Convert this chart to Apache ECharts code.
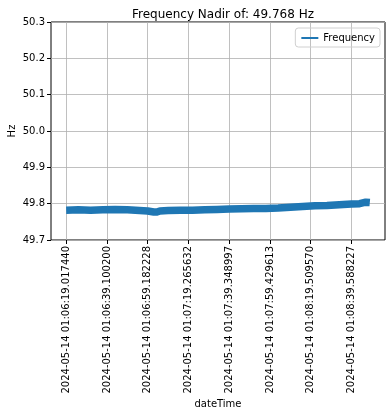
<!DOCTYPE html>
<html>
<head>
<meta charset="utf-8">
<script src="https://cdn.jsdelivr.net/npm/echarts@6/dist/echarts.min.js"></script>
<style>html,body{margin:0;padding:0;background:#fff}#c{width:392px;height:416px}</style>
</head>
<body>
<div id="c"></div>
<script>
// sample index (≈10 samples/s) and frequency (Hz)
const sampleIndex = [0, 60, 120, 180, 240, 300, 360, 400, 430, 445, 460, 500, 560, 620, 680, 740, 800, 860, 920, 980, 1040, 1100, 1160, 1220, 1280, 1340, 1400, 1440, 1470, 1490];
const frequency = [49.782, 49.783, 49.782, 49.783, 49.784, 49.783, 49.781, 49.780, 49.777, 49.777, 49.780, 49.781, 49.782, 49.782, 49.783, 49.784, 49.785, 49.786, 49.787, 49.787, 49.788, 49.790, 49.792, 49.794, 49.795, 49.797, 49.799, 49.800, 49.804, 49.803];
const tickIndex = [0, 200, 400, 600, 800, 1000, 1200, 1400];
const tickLabels = [
  "2024-05-14 01:06:19.017440",
  "2024-05-14 01:06:39.100200",
  "2024-05-14 01:06:59.182228",
  "2024-05-14 01:07:19.265632",
  "2024-05-14 01:07:39.348997",
  "2024-05-14 01:07:59.429613",
  "2024-05-14 01:08:19.509570",
  "2024-05-14 01:08:39.588227"
];

const font = "DejaVu Sans";
const chart = echarts.init(document.getElementById('c'), null, {renderer: 'canvas'});
const n = sampleIndex[sampleIndex.length - 1];
chart.setOption({
  animation: false,
  backgroundColor: '#fff',
  title: {
    text: 'Frequency Nadir of: 49.768 Hz',
    left: 218, top: 4, textAlign: 'center',
    textStyle: {fontFamily: font, fontSize: 12, fontWeight: 'normal', color: '#000'}
  },
  legend: {
    right: 12, top: 28,
    data: ['Frequency'],
    icon: 'rect', itemWidth: 17, itemHeight: 2, itemGap: 6,
    borderColor: '#d0d0d0', borderWidth: 1, borderRadius: 3,
    padding: [5, 5, 4, 6],
    textStyle: {fontFamily: font, fontSize: 10, color: '#000'}
  },
  grid: {left: 51, right: 7, top: 22, bottom: 176, containLabel: false, outerBoundsMode: 'none',
         show: true, borderColor: '#000', borderWidth: 1, backgroundColor: 'transparent'},
  xAxis: {
    type: 'value',
    min: -0.05 * n, max: 1.05 * n,
    name: 'dateTime', nameLocation: 'middle', nameGap: 159, nameMoveOverlap: false,
    nameTextStyle: {fontFamily: font, fontSize: 10, color: '#000'},
    axisLine: {show: false, onZero: false},
    axisTick: {show: true, customValues: tickIndex, length: 4, lineStyle: {color: '#000'}},
    axisLabel: {
      customValues: tickIndex, rotate: 90, margin: 6,
      fontFamily: font, fontSize: 10, color: '#000',
      formatter: v => tickLabels[tickIndex.indexOf(Math.round(v))] || ''
    },
    splitLine: {show: false}
  },
  yAxis: {
    type: 'value', min: 49.7, max: 50.3, interval: 0.1,
    name: 'Hz', nameLocation: 'middle', nameGap: 34, nameRotate: 90, nameMoveOverlap: false,
    nameTextStyle: {fontFamily: font, fontSize: 10, color: '#000'},
    axisLine: {show: false, onZero: false},
    axisTick: {show: true, length: 4, lineStyle: {color: '#000'}},
    axisLabel: {fontFamily: font, fontSize: 10, color: '#000', margin: 6, formatter: v => Number(v).toFixed(1)},
    splitLine: {show: true, lineStyle: {color: '#b0b0b0', width: 0.8}}
  },
  series: [{
    name: 'Frequency', type: 'line', showSymbol: false, symbol: 'none',
    data: sampleIndex.map((x, i) => [x, frequency[i]]),
    lineStyle: {color: '#1f77b4', width: 7.5, cap: 'butt', join: 'round'},
    itemStyle: {color: '#1f77b4'},
    z: 3,
    markLine: {
      silent: true, symbol: 'none', label: {show: false},
      lineStyle: {color: '#b0b0b0', width: 0.8, type: 'solid'},
      data: tickIndex.map(v => ({xAxis: v})),
      z: 1
    }
  }]
});
</script>
</body>
</html>
